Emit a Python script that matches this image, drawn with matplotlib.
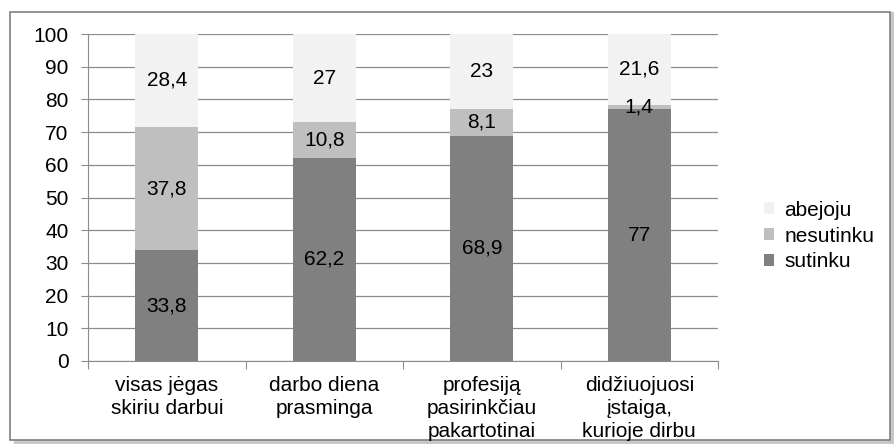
import numpy as np
import matplotlib.pyplot as plt
from matplotlib.patches import Rectangle

plt.rcParams['font.family'] = ['Liberation Sans', 'DejaVu Sans']

categories = ['visas jėgas\nskiriu darbui', 'darbo diena\nprasminga',
              'profesiją\npasirinkčiau\npakartotinai', 'didžiuojuosi\nįstaiga,\nkurioje dirbu']
sutinku = [33.8, 62.2, 68.9, 77]
nesutinku = [37.8, 10.8, 8.1, 1.4]
abejoju = [28.4, 27, 23, 21.6]

series = [('sutinku', sutinku, '#808080'),
          ('nesutinku', nesutinku, '#bfbfbf'),
          ('abejoju', abejoju, '#f2f2f2')]


def fmt(v):
    return ('%g' % v).replace('.', ',')


fig = plt.figure(figsize=(8.96, 4.48), dpi=100)
# outer frame with a soft shadow
fig.patches.append(Rectangle((14/896, 1 - 444/448), 880/896, 432/448, transform=fig.transFigure,
                             facecolor='#c8c8c8', edgecolor='none', zorder=-2))
fig.patches.append(Rectangle((10/896, 1 - 440/448), 880/896, 428/448, transform=fig.transFigure,
                             facecolor='white', edgecolor='#7f7f7f', linewidth=1.2, zorder=-1))

ax = fig.add_axes([88/896, 1 - 361/448, 630/896, 327/448])
ax.patch.set_alpha(0)
x = np.arange(len(categories))
bottom = np.zeros(len(categories))
handles = []
for name, vals, col in series:
    b = ax.bar(x, vals, 0.4, bottom=bottom, color=col, label=name, zorder=3)
    handles.append(b)
    for xi, v, bt in zip(x, vals, bottom):
        ax.text(xi, bt + v / 2, fmt(v), ha='center', va='center', fontsize=15, zorder=4)
    bottom += np.array(vals)

ax.set_xlim(-0.5, len(categories) - 0.5)
ax.set_ylim(0, 100)
ax.set_yticks(range(0, 101, 10))
ax.yaxis.grid(True, color='#8c8c8c', linewidth=0.9, zorder=0)
ax.set_axisbelow(True)
for s in ['top', 'right']:
    ax.spines[s].set_visible(False)
ax.spines['left'].set_color('#8c8c8c')
ax.spines['bottom'].set_color('#8c8c8c')
ax.tick_params(axis='y', length=5, color='#8c8c8c', labelsize=15, direction='out', pad=9)
ax.set_xticks(np.arange(-0.5, len(categories), 1.0))
ax.set_xticklabels([])
ax.tick_params(axis='x', length=6, color='#8c8c8c')
for xi, lab in zip(x, categories):
    ax.text(xi, -4.5, lab, ha='center', va='top', fontsize=15, linespacing=1.28,
            transform=ax.transData, clip_on=False)

fig.legend([handles[2], handles[1], handles[0]], ['abejoju', 'nesutinku', 'sutinku'],
           loc='center left', bbox_to_anchor=(745/896, 1 - 236/448), frameon=False,
           fontsize=15, handlelength=0.5, handleheight=0.5, handletextpad=0.5,
           labelspacing=0.32)

fig.savefig('out.png', dpi=100)
